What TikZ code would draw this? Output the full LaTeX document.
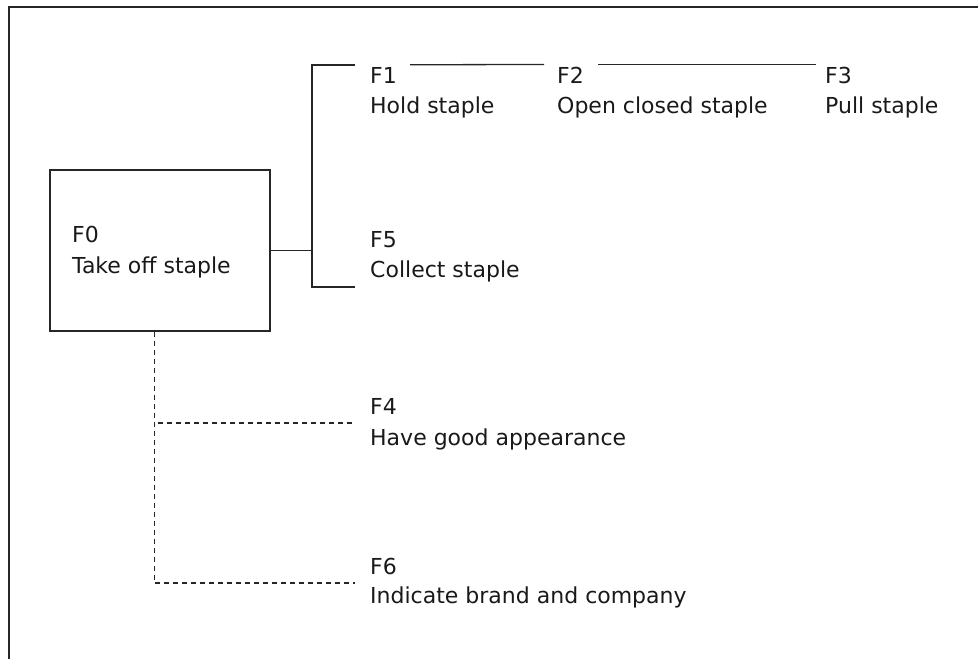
\documentclass[tikz,border=0pt]{standalone}
\usepackage{fontspec}
\setmainfont{DejaVu Sans}
\usetikzlibrary{calc}
\begin{document}
\begin{tikzpicture}[x=1pt,y=-1pt,
  lbl/.style={anchor=base west,inner sep=0pt,font=\fontsize{22}{26}\selectfont,text=black!90},
  link/.style={line width=1.3pt,draw=black!85},
  dline/.style={line width=1.2pt,draw=black!85,dash pattern=on 5pt off 4pt},
  fbox/.style={draw=black!85,line width=1.3pt,minimum width=220pt,minimum height=161pt,inner sep=0pt}]
  \useasboundingbox (0,0) rectangle (978,659);
  % open frame (top and left edges)
  \draw[line width=1.8pt,black!85] (9,659) -- (9,7) -- (978,7);

  % root function
  \node[fbox] (f0) at (160,250.5) {};
  \node[lbl] (f0id) at (72,242) {F0};
  \node[lbl] (f0t) at (72,273) {Take off staple};

  % sub-functions
  \node[lbl] (f1id) at (370,83) {F1};
  \node[lbl] (f1t)  at (370,113) {Hold staple};
  \node[lbl] (f2id) at (557,83) {F2};
  \node[lbl] (f2t)  at (557,113) {Open closed staple};
  \node[lbl] (f3id) at (825,83) {F3};
  \node[lbl] (f3t)  at (825,113) {Pull staple};
  \node[lbl] (f5id) at (370,247) {F5};
  \node[lbl] (f5t)  at (370,277) {Collect staple};
  \node[lbl] (f4id) at (370,414) {F4};
  \node[lbl] (f4t)  at (370,445) {Have good appearance};
  \node[lbl] (f6id) at (370,574) {F6};
  \node[lbl] (f6t)  at (370,603) {Indicate brand and company};

  % tree branches
  \coordinate (trunk) at (312,250.5);
  \coordinate (t1) at (355,65);
  \coordinate (t5) at (355,287);
  \draw[link] (f0.east) -- (trunk);
  \draw[link] (t1) -| (trunk) |- (t5);
  \draw[link] ([xshift=13pt,yshift=2pt]f1id.north east) -- ([xshift=-13pt,yshift=2pt]f2id.north west);
  \draw[link] ([xshift=14pt,yshift=2pt]f2id.north east) -- ([xshift=-9pt,yshift=2pt]f3id.north west);

  % dashed branches
  \coordinate (spine) at ([xshift=105pt]f0.south west);
  \coordinate (d4) at (352,423);
  \coordinate (d6) at (355,583);
  \draw[dline] (spine) |- (d6);
  \draw[dline] (d4) -- (d4 -| spine);
\end{tikzpicture}
\end{document}
